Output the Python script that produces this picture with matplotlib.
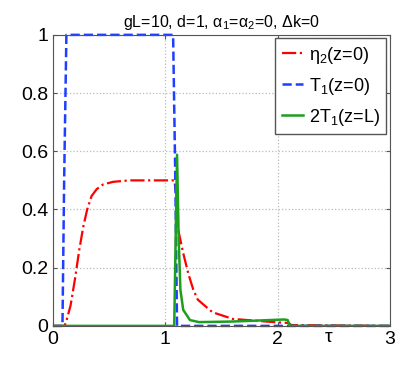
import matplotlib
matplotlib.use("Agg")
import matplotlib.pyplot as plt

# données
tau_eta = [0, 0.10, 0.115, 0.157, 0.196, 0.234, 0.27, 0.305, 0.344, 0.39, 0.447, 0.536, 0.68,
           1.08, 1.10, 1.11, 1.135, 1.16, 1.205, 1.25, 1.29, 1.42, 1.6, 2.0, 2.1, 2.12, 3]
eta2 = [0, 0, 0.01, 0.07, 0.16, 0.26, 0.34, 0.40, 0.446, 0.47, 0.486, 0.495, 0.5,
        0.5, 0.45, 0.34, 0.295, 0.25, 0.18, 0.124, 0.09, 0.047, 0.024, 0.012, 0.01, 0.003, 0]

tau_t1 = [0, 0.085, 0.10, 0.12, 1.07, 1.09, 1.105, 3]
t1_z0 = [0, 0, 0.5, 1, 1, 0.5, 0, 0]

tau_t1L = [0, 1.08, 1.105, 1.12, 1.135, 1.16, 1.22, 1.3, 1.6, 2.06, 2.09, 2.11, 3]
t1_zL = [0, 0, 0.588, 0.295, 0.124, 0.055, 0.02, 0.013, 0.015, 0.022, 0.02, 0, 0]

plt.rcParams['font.family'] = ['Liberation Sans', 'DejaVu Sans']
plt.rcParams['mathtext.default'] = 'regular'

fig = plt.figure(figsize=(4.07, 3.67), dpi=100)
ax = fig.add_axes([0.130, 0.112, 0.828, 0.793])

ax.plot(tau_eta, eta2, '-.', color='#ff0000', lw=1.6, label=r'$\eta_2$(z=0)')
ax.plot(tau_t1, t1_z0, '--', color='#1f3fff', lw=1.8, label=r'$T_1$(z=0)', clip_on=False)
ax.plot(tau_t1L, t1_zL, '-', color='#1d9e1d', lw=1.8, label=r'$2T_1$(z=L)')

ax.set_xlim(0, 3)
ax.set_ylim(0, 1)
ax.set_xticks([0, 1, 2, 3])
ax.set_yticks([0, 0.2, 0.4, 0.6, 0.8, 1])
ax.set_yticklabels(['0', '0.2', '0.4', '0.6', '0.8', '1'])
ax.tick_params(direction='in', labelsize=14, top=True, right=True, color='#555555', length=3)
ax.grid(True, linestyle=':', color='#bbbbbb', lw=0.9)
for s in ax.spines.values():
    s.set_color('#555555')

ax.set_title(r'gL=10, d=1, $\alpha_1$=$\alpha_2$=0, $\Delta$k=0', fontsize=11.5)
ax.text(2.46, -0.04, r'$\tau$', fontsize=14, ha='center', va='center')

leg = ax.legend(loc='upper right', fontsize=13, fancybox=False, framealpha=1,
                edgecolor='#555555', handlelength=1.2, handletextpad=0.3,
                borderaxespad=0.2, labelspacing=0.55, borderpad=0.35)

plt.savefig('out.png', dpi=100)
